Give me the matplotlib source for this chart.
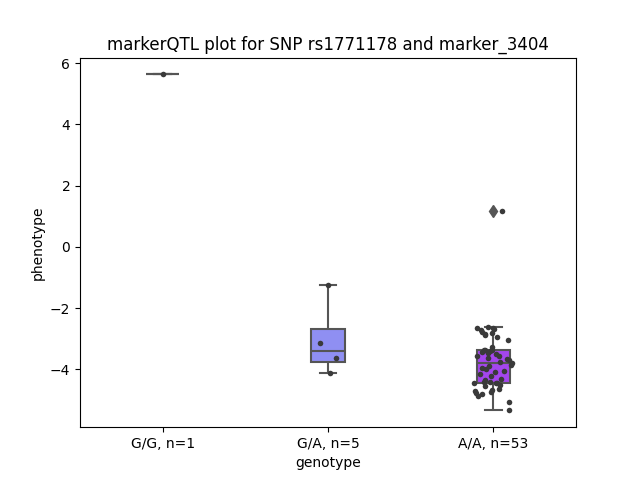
import numpy as np
import pandas as pd
import matplotlib
matplotlib.use("Agg")
import matplotlib.pyplot as plt
import seaborn as sns

genotypes = ["G/G", "G/A", "A/A"]
counts = [1, 5, 53]
tick_labels = ["G/G, n=1", "G/A, n=5", "A/A, n=53"]
box_colors = {"G/G": "#7f9ff0", "G/A": "#8f8ff2", "A/A": "#a446ee"}

# phenotype values per genotype
gg_values = [5.63]
ga_box_values = [-4.13, -3.76, -3.40, -2.68, -1.25]
ga_points = [-4.13, -3.64, -3.15, -1.25]
aa_values = [
    -5.34, -5.05, -4.88, -4.80, -4.78, -4.75, -4.72, -4.68, -4.65, -4.55,
    -4.50, -4.46, -4.44, -4.43, -4.42, -4.40, -4.35, -4.30, -4.22, -4.15,
    -4.10, -4.05, -4.00, -3.95, -3.90, -3.85, -3.78, -3.75, -3.70, -3.66,
    -3.62, -3.58, -3.55, -3.50, -3.47, -3.44, -3.41, -3.38, -3.37, -3.36,
    -3.28, -3.05, -2.95, -2.89, -2.85, -2.82, -2.78, -2.73, -2.69, -2.66,
    -2.64, -2.63, 1.18,
]

box_df = pd.DataFrame({
    "genotype": ["G/G"] * len(gg_values) + ["G/A"] * len(ga_box_values) + ["A/A"] * len(aa_values),
    "phenotype": gg_values + ga_box_values + aa_values,
})
pts_df = pd.DataFrame({
    "genotype": ["G/G"] * len(gg_values) + ["G/A"] * len(ga_points) + ["A/A"] * len(aa_values),
    "phenotype": gg_values + ga_points + aa_values,
})

fig, ax = plt.subplots(figsize=(6.4, 4.8), dpi=100)
sns.boxplot(data=box_df, x="genotype", y="phenotype", hue="genotype", order=genotypes,
            palette=box_colors, width=0.2, saturation=1, linewidth=1.5,
            linecolor="#555555", legend=False, ax=ax,
            flierprops=dict(marker="d", markersize=6, markerfacecolor="#555555",
                            markeredgecolor="#555555"))
np.random.seed(3)
sns.stripplot(data=pts_df, x="genotype", y="phenotype", order=genotypes,
              color="#3a3a3a", size=4, jitter=0.12, ax=ax)

ax.set_xticks(range(len(genotypes)))
ax.set_xticklabels(tick_labels)
ax.set_xlabel("genotype")
ax.set_ylabel("phenotype")
ax.set_title("markerQTL plot for SNP rs1771178 and marker_3404")
fig.savefig("out.png")
